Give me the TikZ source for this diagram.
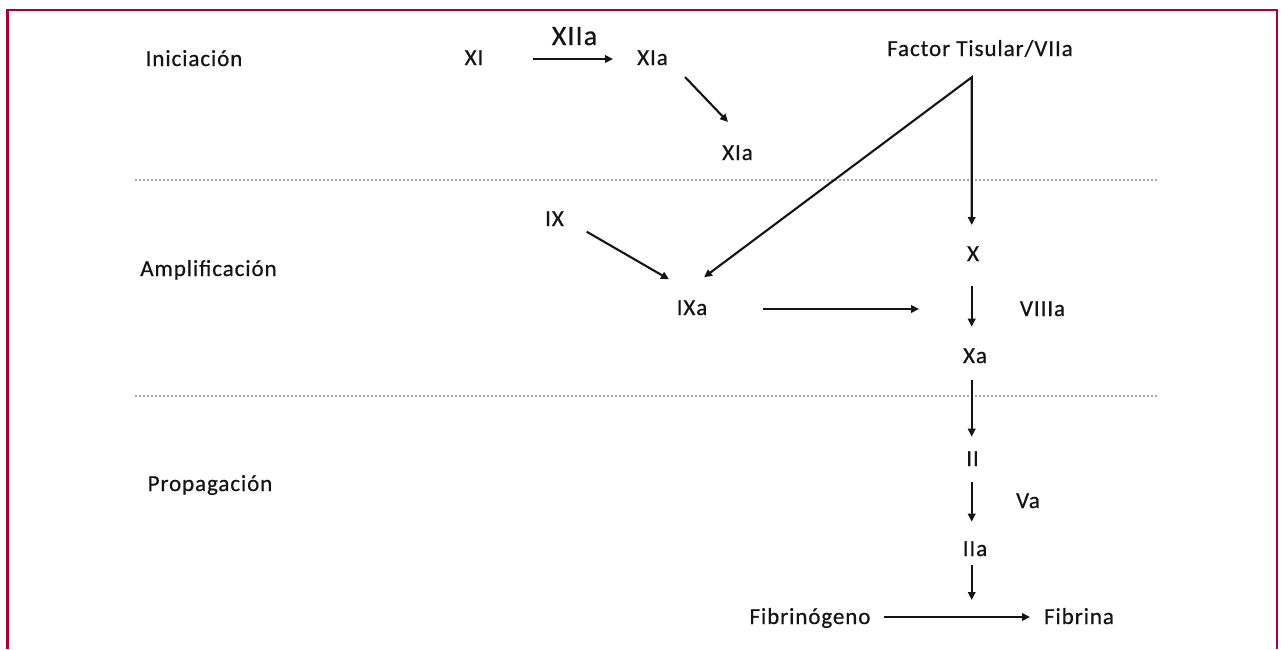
\documentclass[tikz,border=0pt]{standalone}
\usepackage{fontspec}
\setmainfont{Carlito}[LetterSpace=4, FakeBold=0.6]
\usetikzlibrary{arrows.meta}
\definecolor{frame}{RGB}{170,0,54}
\definecolor{ink}{RGB}{20,20,20}
\tikzset{
  lbl/.style={anchor=base, inner sep=0pt, text=ink, font=\fontsize{23pt}{27pt}\selectfont},
  biglbl/.style={lbl, font=\fontsize{28pt}{32pt}\selectfont},
  arr/.style={draw=ink, line width=2.1pt, -{Triangle[length=8pt,width=7.5pt]}},
  twoarr/.style={draw=ink, line width=2.1pt, {Triangle[length=8pt,width=7.5pt]}-{Triangle[length=8pt,width=7.5pt]}},
  sep/.style={draw=gray!65, line width=1.6pt, dash pattern=on 2pt off 2pt},
}
\begin{document}
\begin{tikzpicture}[x=1pt, y=-1pt]
\useasboundingbox (0,0) rectangle (1281,649);
% open frame
\draw[frame, line width=2.8pt] (7.3,649) -- (7.3,10) -- (1277,10) -- (1277,649);

% phase separators
\draw[sep] (135,180) -- (1158,180);
\draw[sep] (135,396) -- (1158,396);

% phase names
\node[lbl] (ini) at (194,66) {Iniciación};
\node[lbl] (amp) at (208.5,276) {Amplificación};
\node[lbl] (prop) at (210,491) {Propagación};

% factors
\node[lbl] (xi) at (474,65) {XI};
\node[biglbl] (xiia) at (574.5,45) {XIIa};
\node[lbl] (xia1) at (652.5,65) {XIa};
\node[lbl] (xia2) at (737.5,160) {XIa};
\node[lbl] (ft) at (980,56) {Factor Tisular/VIIa};
\node[lbl] (ix) at (554.5,226) {IX};
\node[lbl] (ixa) at (692,315) {IXa};
\node[lbl] (x) at (973,261) {X};
\node[lbl] (viiia) at (1042.5,316) {VIIIa};
\node[lbl] (xa) at (975,363) {Xa};
\node[lbl] (ii) at (972.5,466) {II};
\node[lbl] (va) at (1028,508) {Va};
\node[lbl] (iia) at (975,556) {IIa};
\node[lbl] (fgeno) at (810,624) {Fibrinógeno};
\node[lbl] (fina) at (1079,624) {Fibrina};

% branching point and free arrow ends
\coordinate (tf) at ([shift={(-8.3,21.3)}]ft.base);
\coordinate (tenase) at (919,309);
\coordinate (thromb) at (971.7,600);

% connectors
\draw[arr] ([shift={(59,-6)}]xi.base) -- ([shift={(-39.5,-6)}]xia1.base);
\draw[arr] ([shift={(32.5,12)}]xia1.base) -- ([shift={(-9.5,-38)}]xia2.base);
\draw[twoarr] ([shift={(12,-37.7)}]ixa.base) -- (tf) -- ([shift={(-1.3,-36)}]x.base);
\draw[arr] ([shift={(32.2,5.7)}]ix.base) -- ([shift={(-23,-35.7)}]ixa.base);
\draw[arr] ([shift={(71,-6)}]ixa.base) -- (tenase);
\draw[arr] ([shift={(-1.3,25)}]x.base) -- ([shift={(-3.3,-36.3)}]xa.base);
\draw[arr] ([shift={(-3.3,17)}]xa.base) -- ([shift={(-0.8,-29.3)}]ii.base);
\draw[arr] ([shift={(-0.8,15.7)}]ii.base) -- ([shift={(-3.3,-34.3)}]iia.base);
\draw[arr] ([shift={(-3.3,9)}]iia.base) -- (thromb);
\draw[arr] ([shift={(74,-7)}]fgeno.base) -- ([shift={(-49,-7)}]fina.base);
\end{tikzpicture}
\end{document}
